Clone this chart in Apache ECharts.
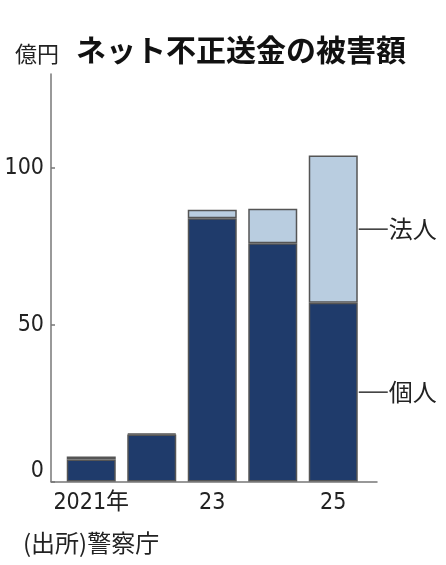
<!DOCTYPE html>
<html><head><meta charset="utf-8">
<script src="https://cdn.jsdelivr.net/npm/echarts@6/dist/echarts.min.js"></script>
<style>html,body{margin:0;padding:0;background:#fff}#c{width:446px;height:565px}</style>
</head><body><div id="c"></div>
<script>
const years = ['2021年', '22', '23', '24', '25'];
const kojin = [7, 15, 84, 76, 57];
const hojin = [1, 0.3, 2.7, 11, 47];
const yTicks = [0, 50, 100];
const yMax = 130;
const seriesNames = ['個人', '法人'];

const NUM = '"Liberation Sans Narrow","DejaVu Sans Condensed","Noto Sans CJK JP",sans-serif';
const JP = '"Noto Sans CJK JP",sans-serif';

function mk(vals, name, color) {
  return {
    type: 'bar', name: name, stack: 'a', barWidth: 49, xAxisIndex: 0, yAxisIndex: 0,
    itemStyle: {color: color, borderColor: '#555', borderWidth: 1.5},
    data: vals.map((v, i) => {
      const d = {value: v};
      if (i === vals.length - 1) {
        d.label = {
          show: true, position: 'right', distance: 1,
          formatter: '{l|}{t|' + name + '}',
          rich: {
            l: {width: 29, height: 1.5, backgroundColor: '#333', verticalAlign: 'middle'},
            t: {fontFamily: JP, fontSize: 24, color: '#222', padding: [0, 0, 0, 1], verticalAlign: 'middle'}
          }
        };
      }
      return d;
    })
  };
}

const chart = echarts.init(document.getElementById('c'));
chart.setOption({
  animation: false,
  title: [
    {text: 'ネット不正送金の被害額', left: 71, top: 30, textStyle: {fontFamily: JP, fontSize: 30, fontWeight: 'bold', color: '#111'}},
    {text: '億円', left: 10, top: 38, textStyle: {fontFamily: JP, fontSize: 22, fontWeight: 'normal', color: '#222'}},
    {text: '(出所)警察庁', left: 18, top: 526, textStyle: {fontFamily: JP, fontSize: 24, fontWeight: 'normal', color: '#222'}}
  ],
  grid: [
    {left: 61, right: 82.5, top: 74, bottom: 83.5},
    {left: 51, right: 69, top: 74, bottom: 83.5}
  ],
  xAxis: [
    {
      type: 'category', data: years, gridIndex: 0,
      axisLine: {show: false}, axisTick: {show: false},
      axisLabel: {interval: 1, fontFamily: NUM, fontSize: 23, color: '#222', margin: 10}
    },
    {
      type: 'value', gridIndex: 1, min: 0, max: 1,
      axisLine: {show: true, onZero: false, lineStyle: {color: '#777', width: 1.5}},
      axisTick: {show: false}, axisLabel: {show: false}, splitLine: {show: false}
    }
  ],
  yAxis: [
    {type: 'value', gridIndex: 0, min: 0, max: yMax, show: false},
    {
      type: 'value', gridIndex: 1, min: 0, max: yMax,
      axisLine: {show: true, onZero: false, lineStyle: {color: '#777', width: 1.5}},
      axisTick: {show: true, inside: true, length: 4, customValues: yTicks, lineStyle: {color: '#777', width: 1.5}},
      splitLine: {show: false},
      axisLabel: {
        customValues: yTicks,
        formatter: v => v === 0 ? '{z|0}' : String(v),
        fontFamily: NUM, fontSize: 23, color: '#222', margin: 7,
        rich: {z: {fontFamily: NUM, fontSize: 23, color: '#222', padding: [0, 0, 20, 0]}}
      }
    }
  ],
  series: [mk(kojin, seriesNames[0], '#1f3b6b'), mk(hojin, seriesNames[1], '#b9cde0')]
});
</script></body></html>
